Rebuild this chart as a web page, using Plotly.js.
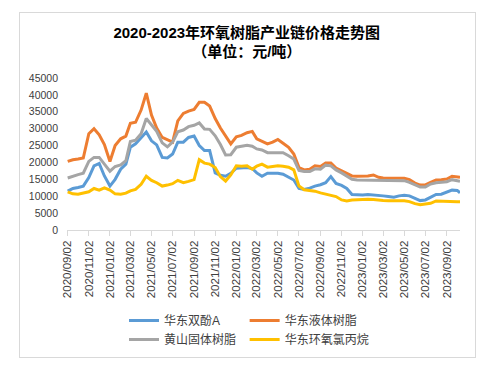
<!DOCTYPE html>
<html>
<head>
<meta charset="utf-8">
<script src="https://cdn.plot.ly/plotly-3.0.1.min.js"></script>
<style>
  html, body { margin: 0; padding: 0; background: #ffffff; }
  #frame { position: absolute; left: 19px; top: 12px; width: 455px; height: 344px; border: 1px solid #d9d9d9; }
  #chart { position: absolute; left: 0; top: 0; width: 481px; height: 366px; }
</style>
</head>
<body>
<div id="frame"></div>
<div id="chart"></div>
<script>
// Dates (half-monthly readings)
const dates = [
  '2020-09-02','2020-09-17','2020-10-02','2020-10-17','2020-11-02','2020-11-17','2020-12-02','2020-12-17',
  '2021-01-02','2021-01-17','2021-02-02','2021-02-17','2021-03-02','2021-03-17','2021-04-02','2021-04-17',
  '2021-05-02','2021-05-17','2021-06-02','2021-06-17','2021-07-02','2021-07-17','2021-08-02','2021-08-17',
  '2021-09-02','2021-09-17','2021-10-02','2021-10-17','2021-11-02','2021-11-17','2021-12-02','2021-12-17',
  '2022-01-02','2022-01-17','2022-02-02','2022-02-17','2022-03-02','2022-03-17','2022-04-02','2022-04-17',
  '2022-05-02','2022-05-17','2022-06-02','2022-06-17','2022-07-02','2022-07-17','2022-08-02','2022-08-17',
  '2022-09-02','2022-09-17','2022-10-02','2022-10-17','2022-11-02','2022-11-17','2022-12-02','2022-12-17',
  '2023-01-02','2023-01-17','2023-02-02','2023-02-17','2023-03-02','2023-03-17','2023-04-02','2023-04-17',
  '2023-05-02','2023-05-17','2023-06-02','2023-06-17','2023-07-02','2023-07-17','2023-08-02','2023-08-17',
  '2023-09-02','2023-09-17','2023-10-02','2023-10-10'
];

// 华东双酚A
const bpaEast = [
  11500,12300,12600,13000,15500,19000,19700,16000,
  13000,15000,18000,19500,24500,25500,27300,29000,
  26400,25200,21500,21300,22500,26000,26000,27400,
  27800,25000,23500,23500,16900,16200,15900,16800,
  18300,18300,18500,18200,16900,15900,16800,16800,
  16800,16500,15600,14800,12300,12000,12400,13000,
  13400,14000,15800,13800,13200,12300,10500,10350,
  10350,10500,10400,10300,10100,9900,9700,10100,
  10300,10100,9300,8700,8900,9700,10500,10600,
  11200,11800,11700,11000
];

// 华东液体树脂
const liquidResinEast = [
  20300,20800,21000,21300,28500,30000,28200,25300,
  20300,25000,27000,27800,31600,31900,35500,40500,
  34000,30200,27400,26800,26000,32300,34500,35200,
  35700,37800,37800,36700,33000,30200,27800,25500,
  27600,28000,28800,29200,27000,26300,25500,26000,
  26800,25700,24500,22500,18500,17800,18000,19000,
  18800,19800,19800,18300,17500,16700,16000,15900,
  15900,16000,16300,15600,15400,15400,15300,15400,
  15300,14900,13900,13300,13400,14100,14800,14900,
  15100,15900,15700,15600
];

// 黄山固体树脂
const solidResinHuangshan = [
  15400,16000,16400,16800,20300,21500,21500,19500,
  17400,18800,19300,20500,26200,26600,28500,33000,
  31200,29200,25800,24600,26000,29100,29600,30600,
  31000,31700,29900,29800,27900,25300,22200,22300,
  24500,24900,25100,24800,24000,23700,22900,22900,
  22900,22900,22000,21000,17600,17300,17300,18100,
  18000,19200,19000,17800,16900,15900,15000,14800,
  14800,14800,14800,14700,14700,14750,14750,14750,
  14600,14100,13500,12700,12700,13600,14000,14100,
  14300,14900,14600,14400
];

// 华东环氧氯丙烷
const echEast = [
  11300,10700,10600,11000,11300,12300,11800,12500,
  11800,10700,10600,10900,11600,12000,13500,15900,
  14700,14000,13000,13300,13700,14700,14000,14400,
  14900,20800,19800,19500,18500,15800,14500,16300,
  19000,18900,19000,18000,18900,19500,18600,18800,
  19000,18900,18600,17800,13000,11900,11700,11500,
  11000,10600,10300,9900,8900,8600,8900,9000,
  9100,9100,9000,8800,8700,8650,8650,8700,
  8650,8400,7800,7500,7600,7900,8600,8500,
  8400,8400,8400,8400
];

const seriesNames = ['华东双酚A','华东液体树脂','黄山固体树脂','华东环氧氯丙烷'];
const seriesColors = ['#5B9BD5','#ED7D31','#A5A5A5','#FFC000'];
const seriesValues = [bpaEast, liquidResinEast, solidResinHuangshan, echEast];
const legendIds = ['legend','legend2','legend','legend2'];

const FONT = '"Liberation Sans", Arial, "Noto Sans CJK SC", sans-serif';

const traces = seriesValues.map((vals, i) => ({
  type: 'scatter',
  mode: 'lines',
  x: dates,
  y: vals,
  name: seriesNames[i],
  legend: legendIds[i],
  line: { color: seriesColors[i], width: 3, shape: 'linear' },
  hoverinfo: 'skip'
}));

const layout = {
  width: 481,
  height: 366,
  paper_bgcolor: 'rgba(0,0,0,0)',
  plot_bgcolor: 'rgba(0,0,0,0)',
  margin: { l: 67, r: 21, t: 78, b: 133 },
  font: { family: FONT, color: '#595959', size: 11 },
  title: {
    text: '<b>2020-2023年环氧树脂产业链价格走势图</b><br><b>（单位：元/吨）</b>',
    font: { family: FONT, size: 15, color: '#000000' },
    x: 0.513,
    xanchor: 'center',
    y: 0.897,
    yanchor: 'top'
  },
  xaxis: {
    type: 'date',
    range: ['2020-08-31', '2023-10-10'],
    tick0: '2020-09-02',
    dtick: 'M2',
    tickformat: '%Y/%m/%d',
    tickangle: -90,
    tickfont: { size: 11.5, color: '#404040', family: FONT },
    ticks: 'outside',
    ticklen: 5,
    tickcolor: '#d9d9d9',
    showline: true,
    linecolor: '#d9d9d9',
    linewidth: 1,
    showgrid: false,
    zeroline: false,
    fixedrange: true
  },
  yaxis: {
    range: [0, 45000],
    dtick: 5000,
    tick0: 0,
    tickformat: 'd',
    tickfont: { size: 10.5, color: '#404040', family: FONT },
    showgrid: false,
    zeroline: false,
    showline: false,
    ticks: '',
    ticklabelstandoff: 8,
    fixedrange: true
  },
  legend: {
    x: 0.145, xanchor: 'left',
    y: -0.50, yanchor: 'top',
    orientation: 'v',
    bgcolor: 'rgba(0,0,0,0)',
    font: { size: 12, color: '#404040', family: FONT },
    tracegroupgap: 0,
    itemwidth: 30
  },
  legend2: {
    x: 0.452, xanchor: 'left',
    y: -0.50, yanchor: 'top',
    orientation: 'v',
    bgcolor: 'rgba(0,0,0,0)',
    font: { size: 12, color: '#404040', family: FONT },
    tracegroupgap: 0,
    itemwidth: 30
  },
  showlegend: true
};

Plotly.newPlot('chart', traces, layout, { displayModeBar: false, staticPlot: true });
</script>
</body>
</html>
